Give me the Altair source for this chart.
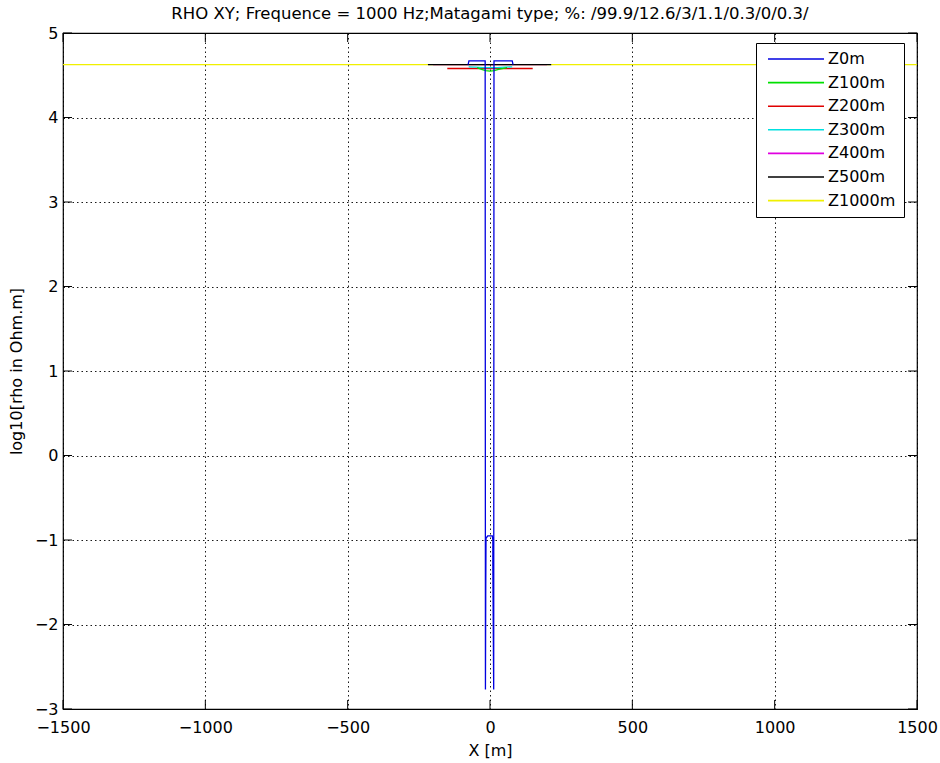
import altair as alt
import pandas as pd

SERIES = ["Z0m", "Z100m", "Z200m", "Z300m", "Z400m", "Z500m", "Z1000m"]
COLORS = ["#0000e0", "#00e000", "#e00000", "#00e0e0", "#e000e0", "#000000", "#f0f000"]
DRAW_ORDER = ["Z1000m", "Z400m", "Z500m", "Z200m", "Z300m", "Z100m", "Z0m"]

Z0_X = [-77, -74, -17, -16, -15, -14, -8, 8, 10, 10, 13, 14, 78, 81]
Z0_Y = [4.625, 4.67, 4.67, -2.77, -1.67, -0.98, -0.95, -0.95, -1.0, -1.3, -2.77, 4.67, 4.67, 4.625]
Z100_X = [-45, -30, -15, 0, 15, 30, 60]
Z100_Y = [4.59, 4.57, 4.555, 4.55, 4.555, 4.57, 4.59]
Z200_X = [-150, -100, -50, 0, 50, 100, 150]
Z200_Y = [4.58, 4.58, 4.58, 4.58, 4.58, 4.58, 4.58]
Z300_X = [-75, -50, -25, 0, 25, 50, 78]
Z300_Y = [4.60, 4.595, 4.59, 4.59, 4.59, 4.595, 4.60]
Z400_X = [-200, -100, 0, 100, 200]
Z400_Y = [4.625, 4.625, 4.625, 4.625, 4.625]
Z500_X = [-218, -150, -75, 0, 75, 150, 215]
Z500_Y = [4.625, 4.625, 4.625, 4.625, 4.625, 4.625, 4.625]
Z1000_X = [-1500, -1000, -500, 0, 500, 1000, 1500]
Z1000_Y = [4.625, 4.625, 4.625, 4.625, 4.625, 4.625, 4.625]

X_TICKS = [-1500, -1000, -500, 0, 500, 1000, 1500]
Y_TICKS = [-3, -2, -1, 0, 1, 2, 3, 4, 5]

TITLE = "RHO XY; Frequence = 1000 Hz;Matagami type; %: /99.9/12.6/3/1.1/0.3/0/0.3/"

W, H = 854, 676
TICK = 9
FONT = "DejaVu Sans"
FS = 16

rows = []
for name, xs, ys in [
    ("Z0m", Z0_X, Z0_Y), ("Z100m", Z100_X, Z100_Y), ("Z200m", Z200_X, Z200_Y),
    ("Z300m", Z300_X, Z300_Y), ("Z400m", Z400_X, Z400_Y), ("Z500m", Z500_X, Z500_Y),
    ("Z1000m", Z1000_X, Z1000_Y),
]:
    for i, (xv, yv) in enumerate(zip(xs, ys)):
        rows.append({"series": name, "x": xv, "y": yv, "order": i})
df = pd.DataFrame(rows)

xscale = alt.Scale(domain=[-1500, 1500], nice=False, zero=False)
yscale = alt.Scale(domain=[-3, 5], nice=False, zero=False)

xaxis = alt.Axis(values=X_TICKS, format="d", title="X [m]", grid=True,
                 gridDash=[1.5, 3], gridColor="black", gridOpacity=0.9, gridWidth=1,
                 ticks=False, domain=False, labelFont=FONT, labelFontSize=FS,
                 labelColor="black", labelPadding=10, labelFlush=False,
                 titleFont=FONT, titleFontSize=FS, titleFontWeight="normal",
                 titleColor="black", titlePadding=7)
yaxis = alt.Axis(values=Y_TICKS, format="d", title="log10[rho in Ohm.m]", grid=True,
                 gridDash=[1.5, 3], gridColor="black", gridOpacity=0.9, gridWidth=1,
                 ticks=False, domain=False, labelFont=FONT, labelFontSize=FS,
                 labelColor="black", labelPadding=5, labelFlush=False,
                 titleFont=FONT, titleFontSize=FS, titleFontWeight="normal",
                 titleColor="black", titlePadding=10)

legend = alt.Legend(title=None, orient="none", legendX=693, legendY=10,
                    symbolType="M-1,0H7", symbolSize=196, symbolStrokeWidth=1.6,
                    symbolOffset=3, labelFont=FONT, labelFontSize=FS, labelColor="black",
                    strokeColor="black", fillColor="white", padding=8,
                    rowPadding=7.6, labelOffset=45)

color = alt.Color("series:N", scale=alt.Scale(domain=SERIES, range=COLORS), legend=legend)
X = alt.X("x:Q", scale=xscale, axis=xaxis)
Y = alt.Y("y:Q", scale=yscale, axis=yaxis)

base = alt.Chart(df)
layers = []
for name in DRAW_ORDER:
    layers.append(base.transform_filter(alt.datum.series == name)
                  .mark_line(strokeWidth=1.3, clip=True)
                  .encode(x=X, y=Y, color=color, order=alt.Order("order:Q")))

xt = alt.Chart(pd.DataFrame({"x": X_TICKS}))
yt = alt.Chart(pd.DataFrame({"y": Y_TICKS}))
tick_layers = [
    xt.mark_rule(color="black", strokeWidth=1).encode(x=X, y=alt.value(H - TICK), y2=alt.value(H)),
    xt.mark_rule(color="black", strokeWidth=1).encode(x=X, y=alt.value(0), y2=alt.value(TICK)),
    yt.mark_rule(color="black", strokeWidth=1).encode(y=Y, x=alt.value(0), x2=alt.value(TICK)),
    yt.mark_rule(color="black", strokeWidth=1).encode(y=Y, x=alt.value(W - TICK), x2=alt.value(W)),
]

chart = alt.layer(*layers, *tick_layers).properties(
    width=W, height=H,
    title=alt.TitleParams(TITLE, font=FONT, fontSize=16.5, fontWeight="normal",
                          color="black", anchor="middle", offset=3),
    autosize=alt.AutoSizeParams(type="none"),
    padding={"left": 63, "top": 33, "right": 23, "bottom": 54},
    background="white",
).configure_view(stroke="black", strokeWidth=1.2)

chart.save("out.html", embed_options={"renderer": "svg", "actions": False})
